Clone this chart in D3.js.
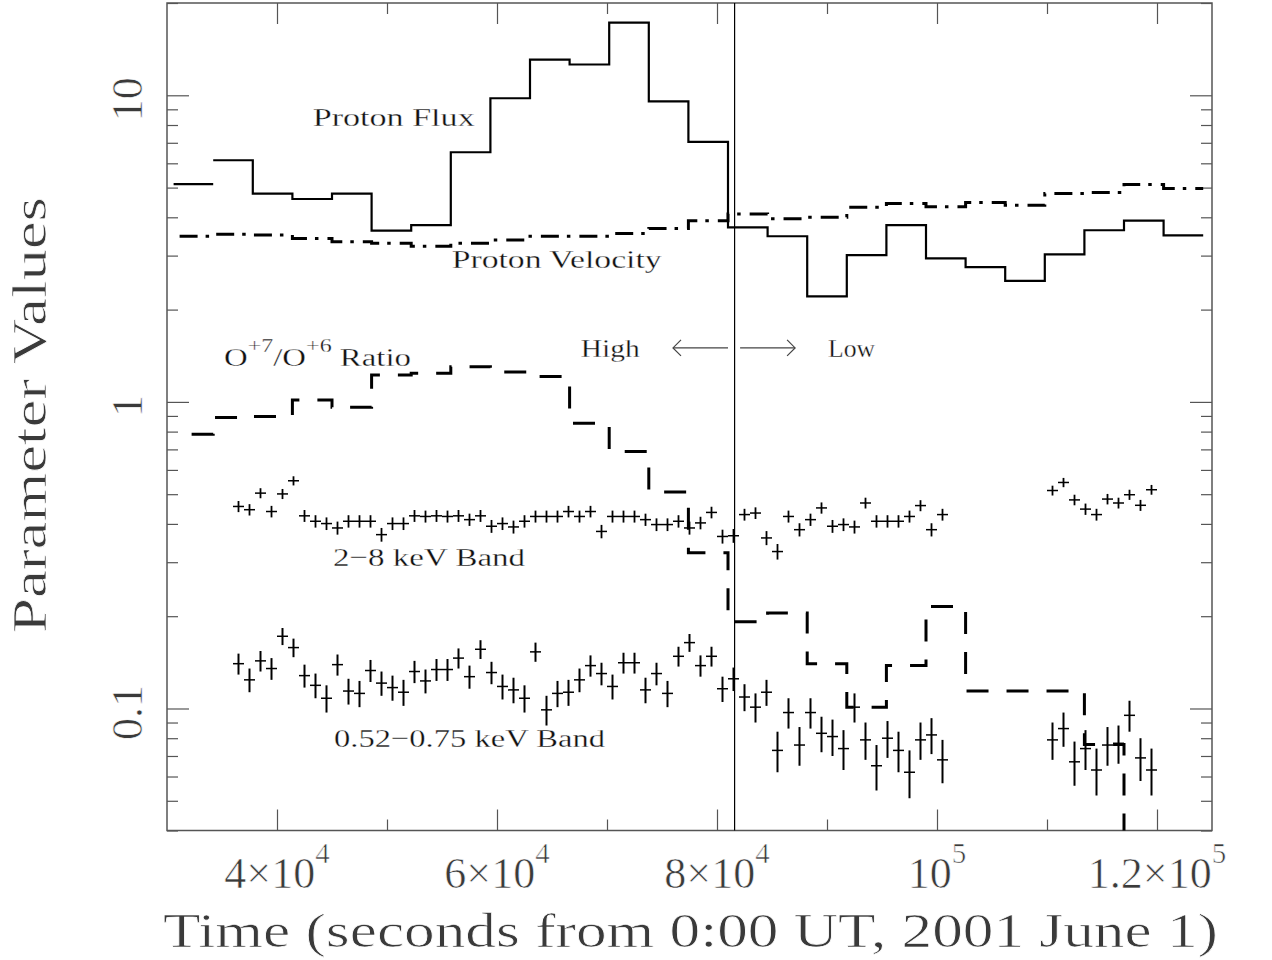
<!DOCTYPE html>
<html><head><meta charset="utf-8">
<script src="https://cdn.jsdelivr.net/npm/d3@7"></script>
<style>
body{margin:0;background:#fff}
svg{display:block}
text{font-family:"Liberation Serif","DejaVu Serif",serif}
</style>
</head><body>
<svg id="chart" width="1272" height="960"></svg>
<script>
// ---------------- DATA ----------------
// Hourly bins (bin centre in hours from 0:00 UT)
const fluxHours = [9,10,11,12,13,14,15,16,17,18,19,20,21,22,23,24,25,26,27,28,29,30,31,32,33,34];
const fluxValues = [5.13,6.14,4.78,4.59,4.78,3.62,3.77,6.52,9.78,13.07,12.6,17.25,9.56,7.05,3.71,3.47,2.21,3.01,3.77,2.94,2.75,2.48,3.03,3.63,3.90,3.49];
const fluxBreakBefore = [1];

const velocityHours = [9,10,11,12,13,14,15,16,17,18,19,20,21,22,23,24,25,26,27,28,29,30,31,32,33,34];
const velocityValues = [3.47,3.52,3.50,3.41,3.33,3.29,3.22,3.29,3.37,3.47,3.47,3.54,3.68,3.90,4.10,3.96,4.00,4.31,4.44,4.33,4.47,4.38,4.78,4.82,5.12,4.97];

const ratioHours = [9,10,11,12,13,14,15,16,17,18,19,20,21,22,23,24,25,26,27,28,29,30,31,32,33];
const ratioValues = [0.785,0.889,0.896,1.015,0.961,1.224,1.24,1.303,1.252,1.209,0.852,0.689,0.508,0.322,0.192,0.205,0.140,0.101,0.138,0.215,0.114,0.114,0.114,0.0763,0.03];

// X-ray band light curves (time in s)
const bandTimes = [36500,37500,38500,39500,40500,41500,42500,43500,44500,45500,46500,47500,48500,49500,50500,51500,52500,53500,54500,55500,56500,57500,58500,59500,60500,61500,62500,63500,64500,65500,66500,67500,68500,69500,70500,71500,72500,73500,74500,75500,76500,77500,78500,79500,80500,81500,82500,83500,84500,85500,86500,87500,88500,89500,90500,91500,92500,93500,94500,95500,96500,97500,98500,99500,100500,110500,111500,112500,113500,114500,115500,116500,117500,118500,119500];
const bandHalfWidth = 500;

const hardValues = [0.456,0.445,0.504,0.439,0.501,0.553,0.425,0.408,0.401,0.388,0.408,0.408,0.408,0.369,0.401,0.401,0.425,0.423,0.425,0.423,0.425,0.413,0.425,0.393,0.401,0.391,0.408,0.423,0.423,0.423,0.439,0.423,
  0.439,0.378,0.423,0.423,0.423,0.413,0.398,0.398,0.408,0.388,0.403,0.436,0.364,0.366,0.429,0.434,0.360,0.325,0.423,0.383,0.413,0.451,0.393,0.398,0.391,0.468,0.408,0.408,0.408,0.423,0.459,0.383,0.429,
  0.514,0.546,0.479,0.447,0.429,0.482,0.468,0.498,0.460,0.517];
const hardErr = 0.019;

const softValues = [0.140,0.124,0.143,0.135,0.172,0.158,0.128,0.119,0.108,0.139,0.114,0.112,0.133,0.121,0.117,0.113,0.132,0.123,0.134,0.134,0.146,0.127,0.156,0.131,0.118,0.115,0.108,0.153,0.099,0.112,0.113,0.124,
  0.138,0.130,0.118,0.141,0.141,0.115,0.130,0.112,0.148,0.164,0.138,0.148,0.116,0.125,0.109,0.101,0.113,0.073,0.097,0.076,0.097,0.083,0.081,0.074,0.101,0.079,0.065,0.080,0.073,0.062,0.079,0.082,0.068,
  0.079,0.086,0.067,0.074,0.063,0.076,0.077,0.095,0.069,0.063];
const softErr = 0.011;

// axes
const xDomain = [30000, 125000];
const yDomain = [0.04, 20];
const xTickValues = [40000, 60000, 80000, 100000, 120000];
const xTickLabels = [["4×10","4"],["6×10","4"],["8×10","4"],["10","5"],["1.2×10","5"]];
const xMinorTicks = [50000, 70000, 90000, 110000];
const yTickValues = [0.1, 1, 10];
const yTickLabels = ["0.1", "1", "10"];

const dividerTime = 81600;
const arrowLevel = 1.5;
const arrowLeft = [81000, 76000];
const arrowRight = [82100, 87100];

// annotations [time, value, text, textLength]
const labels = [
  [43245, 7.93, "Proton Flux", 162],
  [55882, 2.73, "Proton Velocity", 210],
  [67609, 1.405, "High", 59],
  [90091, 1.405, "Low", 47],
  [45091, 0.2907, "2\u22128 keV Band", 192],
  [45182, 0.0748, "0.52\u22120.75 keV Band", 271]
];
const ratioLabelPos = [35182, 1.305];

// ---------------- DRAW ----------------
const svg = d3.select("#chart");
const M = {left:167, right:1212, top:3, bottom:830.5};
const x = d3.scaleLinear().domain(xDomain).range([M.left, M.right]);
const y = d3.scaleLog().domain(yDomain).range([M.bottom, M.top]);
const axisColor = "#555";
const textColor = "#3a3a3a";
const hr = 3600;

svg.append("defs").append("clipPath").attr("id","clip")
  .append("rect").attr("x",M.left).attr("y",M.top).attr("width",M.right-M.left).attr("height",M.bottom-M.top);

function styleAxis(g){
  g.select(".domain").remove();
  g.selectAll("line").attr("stroke",axisColor).attr("stroke-width",1.2);
  g.selectAll("text").remove();
}
const isMajor = v => Math.abs(Math.log10(v) - Math.round(Math.log10(v))) < 1e-6;
const yMinor = y.ticks().filter(v => !isMajor(v));

svg.append("g").attr("transform",`translate(0,${M.bottom})`).call(d3.axisBottom(x).tickValues(xTickValues).tickSize(-21)).call(styleAxis);
svg.append("g").attr("transform",`translate(0,${M.bottom})`).call(d3.axisBottom(x).tickValues(xMinorTicks).tickSize(-11)).call(styleAxis);
svg.append("g").attr("transform",`translate(0,${M.top})`).call(d3.axisTop(x).tickValues(xTickValues).tickSize(-21)).call(styleAxis);
svg.append("g").attr("transform",`translate(0,${M.top})`).call(d3.axisTop(x).tickValues(xMinorTicks).tickSize(-11)).call(styleAxis);
svg.append("g").attr("transform",`translate(${M.left},0)`).call(d3.axisLeft(y).tickValues(yTickValues).tickSize(-22)).call(styleAxis);
svg.append("g").attr("transform",`translate(${M.left},0)`).call(d3.axisLeft(y).tickValues(yMinor).tickSize(-11)).call(styleAxis);
svg.append("g").attr("transform",`translate(${M.right},0)`).call(d3.axisRight(y).tickValues(yTickValues).tickSize(-22)).call(styleAxis);
svg.append("g").attr("transform",`translate(${M.right},0)`).call(d3.axisRight(y).tickValues(yMinor).tickSize(-11)).call(styleAxis);

svg.append("rect").attr("x",M.left).attr("y",M.top).attr("width",M.right-M.left).attr("height",M.bottom-M.top)
  .attr("fill","none").attr("stroke",axisColor).attr("stroke-width",1.5);

// thin the glyphs a little to resemble the thin plotter font
function thin(sel, w){ return sel.attr("stroke","#fff").attr("stroke-width",w).attr("paint-order","fill"); }

// x tick labels
xTickValues.forEach((v,i) => {
  const t = svg.append("text").attr("x", x(v)).attr("y", 888).attr("text-anchor","middle")
    .attr("font-size",44).attr("fill",textColor);
  thin(t, 0.6);
  t.append("tspan").text(xTickLabels[i][0]);
  t.append("tspan").attr("dy",-25).attr("font-size",29).text(xTickLabels[i][1]);
});
// y tick labels
yTickValues.forEach((v,i) => {
  const t = svg.append("text").attr("transform",`translate(142,${y(v)+4}) rotate(-90)`).attr("text-anchor","middle")
    .attr("font-size",44).attr("fill",textColor).text(yTickLabels[i]);
  thin(t, 0.6);
});
// axis titles
thin(svg.append("text").attr("x",690.5).attr("y",947).attr("text-anchor","middle").attr("font-size",48)
  .attr("fill",textColor).attr("textLength",1055).attr("lengthAdjust","spacingAndGlyphs")
  .text("Time (seconds from 0:00 UT, 2001 June 1)"), 0.7);
thin(svg.append("text").attr("transform","translate(46,415) rotate(-90)").attr("text-anchor","middle").attr("font-size",48)
  .attr("fill",textColor).attr("textLength",436).attr("lengthAdjust","spacingAndGlyphs")
  .text("Parameter Values"), 0.7);

const plot = svg.append("g").attr("clip-path","url(#clip)");
const line = d3.line().defined(d => d).x(d => x(d[0])).y(d => y(d[1]));
function stepPoints(hours, values, breaks){
  const pts = [];
  hours.forEach((h,i) => {
    if (breaks && breaks.includes(i)) pts.push(null);
    pts.push([(h-0.5)*hr, values[i]], [(h+0.5)*hr, values[i]]);
  });
  return pts;
}

// proton flux (solid step)
plot.append("path").attr("d", line(stepPoints(fluxHours, fluxValues, fluxBreakBefore)))
  .attr("fill","none").attr("stroke","#000").attr("stroke-width",2.2);
// proton velocity (dash-dot step)
plot.append("path").attr("d", line(stepPoints(velocityHours, velocityValues)))
  .attr("fill","none").attr("stroke","#000").attr("stroke-width",3)
  .attr("stroke-dasharray","18 8 3.5 9").attr("stroke-dashoffset",-6);
// O7/O6 ratio (dashed step)
plot.append("path").attr("d", line(stepPoints(ratioHours, ratioValues)))
  .attr("fill","none").attr("stroke","#000").attr("stroke-width",3)
  .attr("stroke-dasharray","22 18").attr("stroke-dashoffset",22);

// error-bar crosses
function crosses(vals, err, vw){
  const g = plot.append("g").attr("stroke","#000");
  g.selectAll("line.h").data(vals).join("line").attr("class","h")
    .attr("x1",(d,i)=>x(bandTimes[i]-bandHalfWidth)).attr("x2",(d,i)=>x(bandTimes[i]+bandHalfWidth))
    .attr("y1",d=>y(d)).attr("y2",d=>y(d)).attr("stroke-width",1.5);
  g.selectAll("line.v").data(vals).join("line").attr("class","v")
    .attr("x1",(d,i)=>x(bandTimes[i])).attr("x2",(d,i)=>x(bandTimes[i]))
    .attr("y1",d=>y(d-err)).attr("y2",d=>y(d+err)).attr("stroke-width",vw);
}
crosses(hardValues, hardErr, 1.8);
crosses(softValues, softErr, 2);

// divider
svg.append("line").attr("x1",x(dividerTime)).attr("x2",x(dividerTime)).attr("y1",M.top).attr("y2",M.bottom)
  .attr("stroke","#000").attr("stroke-width",1.2);

// arrows
function arrow(from, to){
  const y0 = y(arrowLevel), x0 = x(from), x1 = x(to);
  const dir = Math.sign(x1 - x0);
  const g = svg.append("g").attr("stroke","#444").attr("stroke-width",1.2).attr("fill","none");
  g.append("line").attr("x1",x0).attr("x2",x1).attr("y1",y0).attr("y2",y0);
  g.append("path").attr("d",`M${x1-dir*8},${y0-8}L${x1},${y0}L${x1-dir*8},${y0+8}`);
}
arrow(arrowLeft[0], arrowLeft[1]);
arrow(arrowRight[0], arrowRight[1]);

// labels
labels.forEach(([t,v,s,len]) => {
  thin(svg.append("text").attr("x",x(t)).attr("y",y(v)).attr("font-size",26).attr("fill","#111")
    .attr("textLength",len).attr("lengthAdjust","spacingAndGlyphs").text(s), 0.3);
});
const rl = svg.append("text").attr("x",x(ratioLabelPos[0])).attr("y",y(ratioLabelPos[1]))
  .attr("font-size",26).attr("fill","#111").attr("textLength",187).attr("lengthAdjust","spacingAndGlyphs");
thin(rl, 0.3);
rl.append("tspan").text("O");
rl.append("tspan").attr("dy",-14).attr("font-size",19).text("+7");
rl.append("tspan").attr("dy",14).text("/O");
rl.append("tspan").attr("dy",-14).attr("font-size",19).text("+6");
rl.append("tspan").attr("dy",14).text(" Ratio");
</script>
</body></html>
